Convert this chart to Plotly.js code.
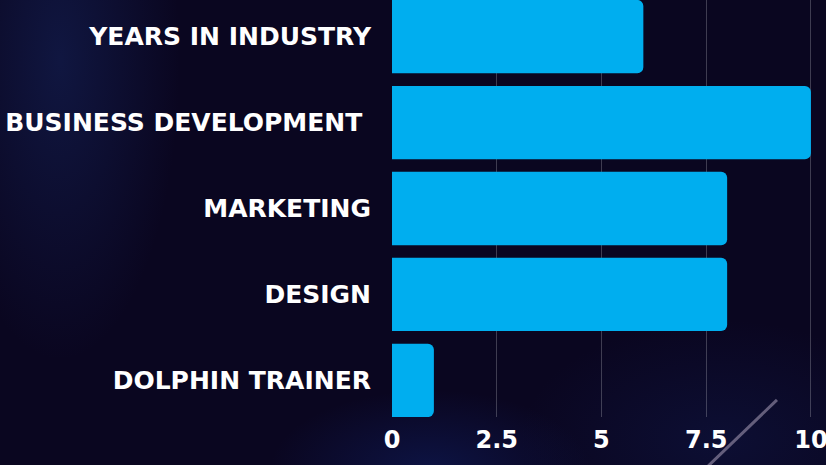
<!DOCTYPE html>
<html>
<head>
<meta charset="utf-8">
<script src="https://cdn.plot.ly/plotly-3.0.1.min.js"></script>
<style>
html,body{margin:0;padding:0;}
body{width:826px;height:465px;overflow:hidden;
background:
radial-gradient(ellipse 120px 300px at 60px 60px, rgba(30,60,140,0.3), transparent),
radial-gradient(ellipse 160px 80px at 430px 470px, rgba(20,50,150,0.3), transparent),
radial-gradient(ellipse 200px 120px at 720px 440px, rgba(20,40,110,0.25), transparent),
#0a0620;}
#chart{width:826px;height:465px;}
</style>
</head>
<body>
<div id="chart"></div>
<script>
const categories = ["YEARS IN INDUSTRY", "BUSINESS DEVELOPMENT ", "MARKETING", "DESIGN", "DOLPHIN TRAINER"];
const values = [6, 10, 8, 8, 1];
const xTickVals = [0, 2.5, 5, 7.5, 10];
const xTickText = ["0", "2.5", "5", "7.5", "10"];

const trace = {
  type: "bar",
  orientation: "h",
  x: values,
  y: categories,
  marker: {color: "#00aeef", cornerradius: 6},
  hoverinfo: "none"
};

const layout = {
  width: 826, height: 465,
  margin: {l: 392, r: 0, t: 0, b: 48, pad: 0},
  paper_bgcolor: "rgba(0,0,0,0)",
  plot_bgcolor: "rgba(0,0,0,0)",
  bargap: 0.147,
  showlegend: false,
  font: {family: "DejaVu Sans", color: "#ffffff"},
  xaxis: {
    range: [0, 10.36],
    tickvals: xTickVals,
    ticktext: xTickText,
    showgrid: true,
    gridcolor: "rgba(255,255,255,0.22)",
    gridwidth: 1,
    zeroline: false,
    showline: false,
    ticks: "",
    ticklabeloverflow: "allow",
    ticklabelstandoff: 6,
    tickfont: {family: "DejaVu Sans", size: 24, color: "#ffffff", weight: "bold"}
  },
  yaxis: {
    type: "category",
    categoryorder: "array",
    categoryarray: categories,
    range: [4.426, -0.426],
    autorange: false,
    showgrid: false,
    zeroline: false,
    showline: false,
    ticks: "",
    ticklabelstandoff: 20,
    tickfont: {family: "DejaVu Sans", size: 25, color: "#ffffff", weight: "bold"}
  },
  shapes: [{
    type: "line", xref: "paper", yref: "paper",
    x0: 0.887, y0: 0.041, x1: 0.726, y1: -0.12,
    line: {color: "rgba(130,122,150,0.75)", width: 3}
  }]
};

Plotly.newPlot("chart", [trace], layout, {displayModeBar: false, staticPlot: true});
</script>
</body>
</html>
